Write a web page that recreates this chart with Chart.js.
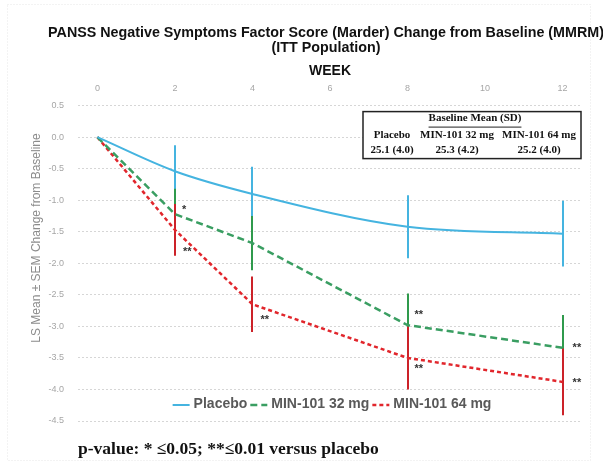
<!DOCTYPE html>
<html>
<head>
<meta charset="utf-8">
<script src="https://cdn.jsdelivr.net/npm/chart.js@4"></script>
<style>
  html, body { margin: 0; padding: 0; background: #fff; }
  #wrap { width: 603px; height: 463px; }
</style>
</head>
<body>
<div id="wrap"><canvas id="chart" width="603" height="463"></canvas></div>
<script>
const weeks = [0, 2, 4, 8, 12];
const weekTicks = [0, 2, 4, 6, 8, 10, 12];
const seriesLabels = ["Placebo", "MIN-101 32 mg", "MIN-101 64 mg"];

const placeboMean = [0, -0.54, -0.90, -1.42, -1.53];
const placeboSem  = [0, 0.41, 0.43, 0.50, 0.52];
const mg32Mean = [0, -1.22, -1.68, -2.98, -3.34];
const mg32Sem  = [0, 0.40, 0.43, 0.50, 0.52];
const mg64Mean = [0, -1.47, -2.65, -3.50, -3.88];
const mg64Sem  = [0, 0.41, 0.44, 0.50, 0.53];

// significance marks next to the points
const mg32Sig = ["", "*", "", "**", "**"];
const mg64Sig = ["", "**", "**", "**", "**"];

const baselineMean = [25.1, 25.3, 25.2];
const baselineSd = [4.0, 4.2, 4.0];

const titleLines = [
  "PANSS Negative Symptoms Factor Score (Marder) Change from Baseline (MMRM)",
  "(ITT Population)"
];
const yTitle = "LS Mean \u00b1 SEM Change from Baseline";
const footnote = "p-value: * \u22640.05; **\u22640.01 versus placebo";

function points(means) {
  return weeks.map((w, i) => ({ x: w, y: means[i] }));
}

/* titles, error bars, stars, legend and baseline box */
const overlay = {
  id: "overlay",
  beforeDraw(chart) {
    const ctx = chart.ctx;
    ctx.save();
    ctx.fillStyle = "#fff";
    ctx.fillRect(0, 0, chart.width, chart.height);
    ctx.strokeStyle = "#e6e6e6";
    ctx.setLineDash([1, 2]);
    ctx.lineWidth = 1;
    ctx.strokeRect(7.5, 4.5, 583, 456);
    ctx.setLineDash([]);

    // main title (wider than the plot, so drawn here without squeezing)
    ctx.fillStyle = "#111";
    ctx.font = "bold 14.3px 'Liberation Sans'";
    ctx.textAlign = "center";
    ctx.textBaseline = "middle";
    ctx.fillText(titleLines[0], 326, 33);
    ctx.fillText(titleLines[1], 326, 48);

    // y axis title
    ctx.translate(37, 238);
    ctx.rotate(-Math.PI / 2);
    ctx.fillStyle = "#8c8c8c";
    ctx.font = "12px 'Liberation Sans'";
    ctx.fillText(yTitle, 0, 0);
    ctx.restore();
  },
  beforeDatasetsDraw(chart) {
    const ctx = chart.ctx;
    const xs = chart.scales.x, ys = chart.scales.y;
    ctx.save();
    chart.data.datasets.forEach(ds => {
      ctx.strokeStyle = ds.errColor;
      ctx.lineWidth = 2;
      ds.data.forEach((p, i) => {
        const s = ds.sem[i];
        if (!s) return;
        const x = Math.round(xs.getPixelForValue(p.x));
        ctx.beginPath();
        ctx.moveTo(x, ys.getPixelForValue(p.y + s));
        ctx.lineTo(x, ys.getPixelForValue(p.y - s));
        ctx.stroke();
      });
    });
    ctx.restore();
  },
  afterDatasetsDraw(chart) {
    const ctx = chart.ctx;
    const xs = chart.scales.x, ys = chart.scales.y;
    const area = chart.chartArea;
    ctx.save();

    // stars
    ctx.fillStyle = "#333";
    ctx.font = "bold 11px 'Liberation Sans'";
    ctx.textBaseline = "middle";
    ctx.textAlign = "left";
    chart.data.datasets.forEach(ds => {
      if (!ds.sig) return;
      ds.data.forEach((p, i) => {
        if (!ds.sig[i]) return;
        const off = ds.sigOffset[i];
        ctx.fillText(ds.sig[i], xs.getPixelForValue(p.x) + off[0], ys.getPixelForValue(p.y) + off[1]);
      });
    });

    // legend inside plot
    ctx.font = "bold 14px 'Liberation Sans'";
    const sample = 17;
    let total = 0;
    chart.data.datasets.forEach((ds, i) => {
      total += sample + 4 + ctx.measureText(ds.label).width + (i < 2 ? 3 : 0);
    });
    let lx = (area.left + area.right) / 2 - total / 2 + 2;
    const ly = area.bottom - 17;
    chart.data.datasets.forEach(ds => {
      ctx.strokeStyle = ds.borderColor;
      ctx.lineWidth = ds.borderWidth;
      ctx.setLineDash(ds.borderDash || []);
      ctx.beginPath();
      ctx.moveTo(lx, ly + 1);
      ctx.lineTo(lx + sample, ly + 1);
      ctx.stroke();
      ctx.setLineDash([]);
      lx += sample + 4;
      ctx.fillStyle = "#595959";
      ctx.fillText(ds.label, lx, ly);
      lx += ctx.measureText(ds.label).width + 3;
    });

    // baseline box
    const bw = 218, bh = 47;
    const bx = area.right - bw - 1, by = area.top + 6;
    ctx.fillStyle = "#fff";
    ctx.fillRect(bx, by, bw, bh);
    ctx.strokeStyle = "#222";
    ctx.lineWidth = 1.5;
    ctx.strokeRect(bx, by, bw, bh);
    ctx.fillStyle = "#111";
    ctx.textAlign = "center";
    ctx.font = "bold 11px 'Liberation Serif'";
    const head = "Baseline Mean (SD)";
    const hx = bx + bw / 2 + 3;
    ctx.fillText(head, hx, by + 7);
    const hw = ctx.measureText(head).width;
    ctx.lineWidth = 1;
    ctx.beginPath();
    ctx.moveTo(hx - hw / 2, by + 15.5);
    ctx.lineTo(hx + hw / 2, by + 15.5);
    ctx.stroke();
    const colX = [bx + 29, bx + 94, bx + 176];
    seriesLabels.forEach((lab, i) => {
      ctx.fillText(lab, colX[i], by + 24);
      ctx.fillText(baselineMean[i].toFixed(1) + " (" + baselineSd[i].toFixed(1) + ")", colX[i], by + 39);
    });
    ctx.restore();
  }
};

const chart = new Chart(document.getElementById("chart"), {
  type: "line",
  data: {
    datasets: [
      {
        label: seriesLabels[0],
        data: points(placeboMean),
        sem: placeboSem,
        borderColor: "#45b4e0",
        errColor: "#45b4e0",
        borderWidth: 2,
        cubicInterpolationMode: "monotone",
        pointRadius: 0
      },
      {
        label: seriesLabels[1],
        data: points(mg32Mean),
        sem: mg32Sem,
        sig: mg32Sig,
        sigOffset: [[0, 0], [7, -4], [0, 0], [7, -10], [10, 0]],
        borderColor: "#3a9e62",
        errColor: "#2f9a4c",
        borderWidth: 2.5,
        borderDash: [7, 4],
        tension: 0,
        pointRadius: 0
      },
      {
        label: seriesLabels[2],
        data: points(mg64Mean),
        sem: mg64Sem,
        sig: mg64Sig,
        sigOffset: [[0, 0], [8, 22], [8, 16], [7, 11], [10, 1]],
        borderColor: "#e1262c",
        errColor: "#cc2229",
        borderWidth: 2.5,
        borderDash: [4, 3],
        tension: 0,
        pointRadius: 0
      }
    ]
  },
  options: {
    responsive: false,
    animation: false,
    layout: { padding: { left: 24, right: 21, top: 61, bottom: 0 } },
    plugins: {
      legend: { display: false },
      tooltip: { enabled: false },
      title: { display: false },
      subtitle: {
        display: true,
        text: footnote,
        position: "bottom",
        align: "start",
        fullSize: false,
        color: "#111",
        font: { family: "'Liberation Serif'", size: 17.5, weight: "bold" },
        padding: { top: 18, bottom: 3 }
      }
    },
    scales: {
      x: {
        type: "linear",
        position: "top",
        min: -0.5,
        max: 12.5,
        afterBuildTicks: axis => { axis.ticks = weekTicks.map(v => ({ value: v })); },
        grid: { display: false },
        border: { display: false },
        ticks: { color: "#a6a6a6", font: { family: "'Liberation Sans'", size: 9 }, padding: 4 },
        title: {
          display: true,
          text: "WEEK",
          color: "#111",
          font: { family: "'Liberation Sans'", size: 14, weight: "bold" },
          padding: { top: 2, bottom: -1 }
        }
      },
      y: {
        min: -4.5,
        max: 0.5,
        afterFit: axis => { axis.width = 54; },
        ticks: {
          stepSize: 0.5,
          color: "#a6a6a6",
          font: { family: "'Liberation Sans'", size: 9 },
          padding: 14,
          callback: v => v.toFixed(1)
        },
        grid: { color: "#d6d6d6", drawTicks: false },
        border: { display: false, dash: [2, 2] }
      }
    }
  },
  plugins: [overlay]
});
</script>
</body>
</html>
